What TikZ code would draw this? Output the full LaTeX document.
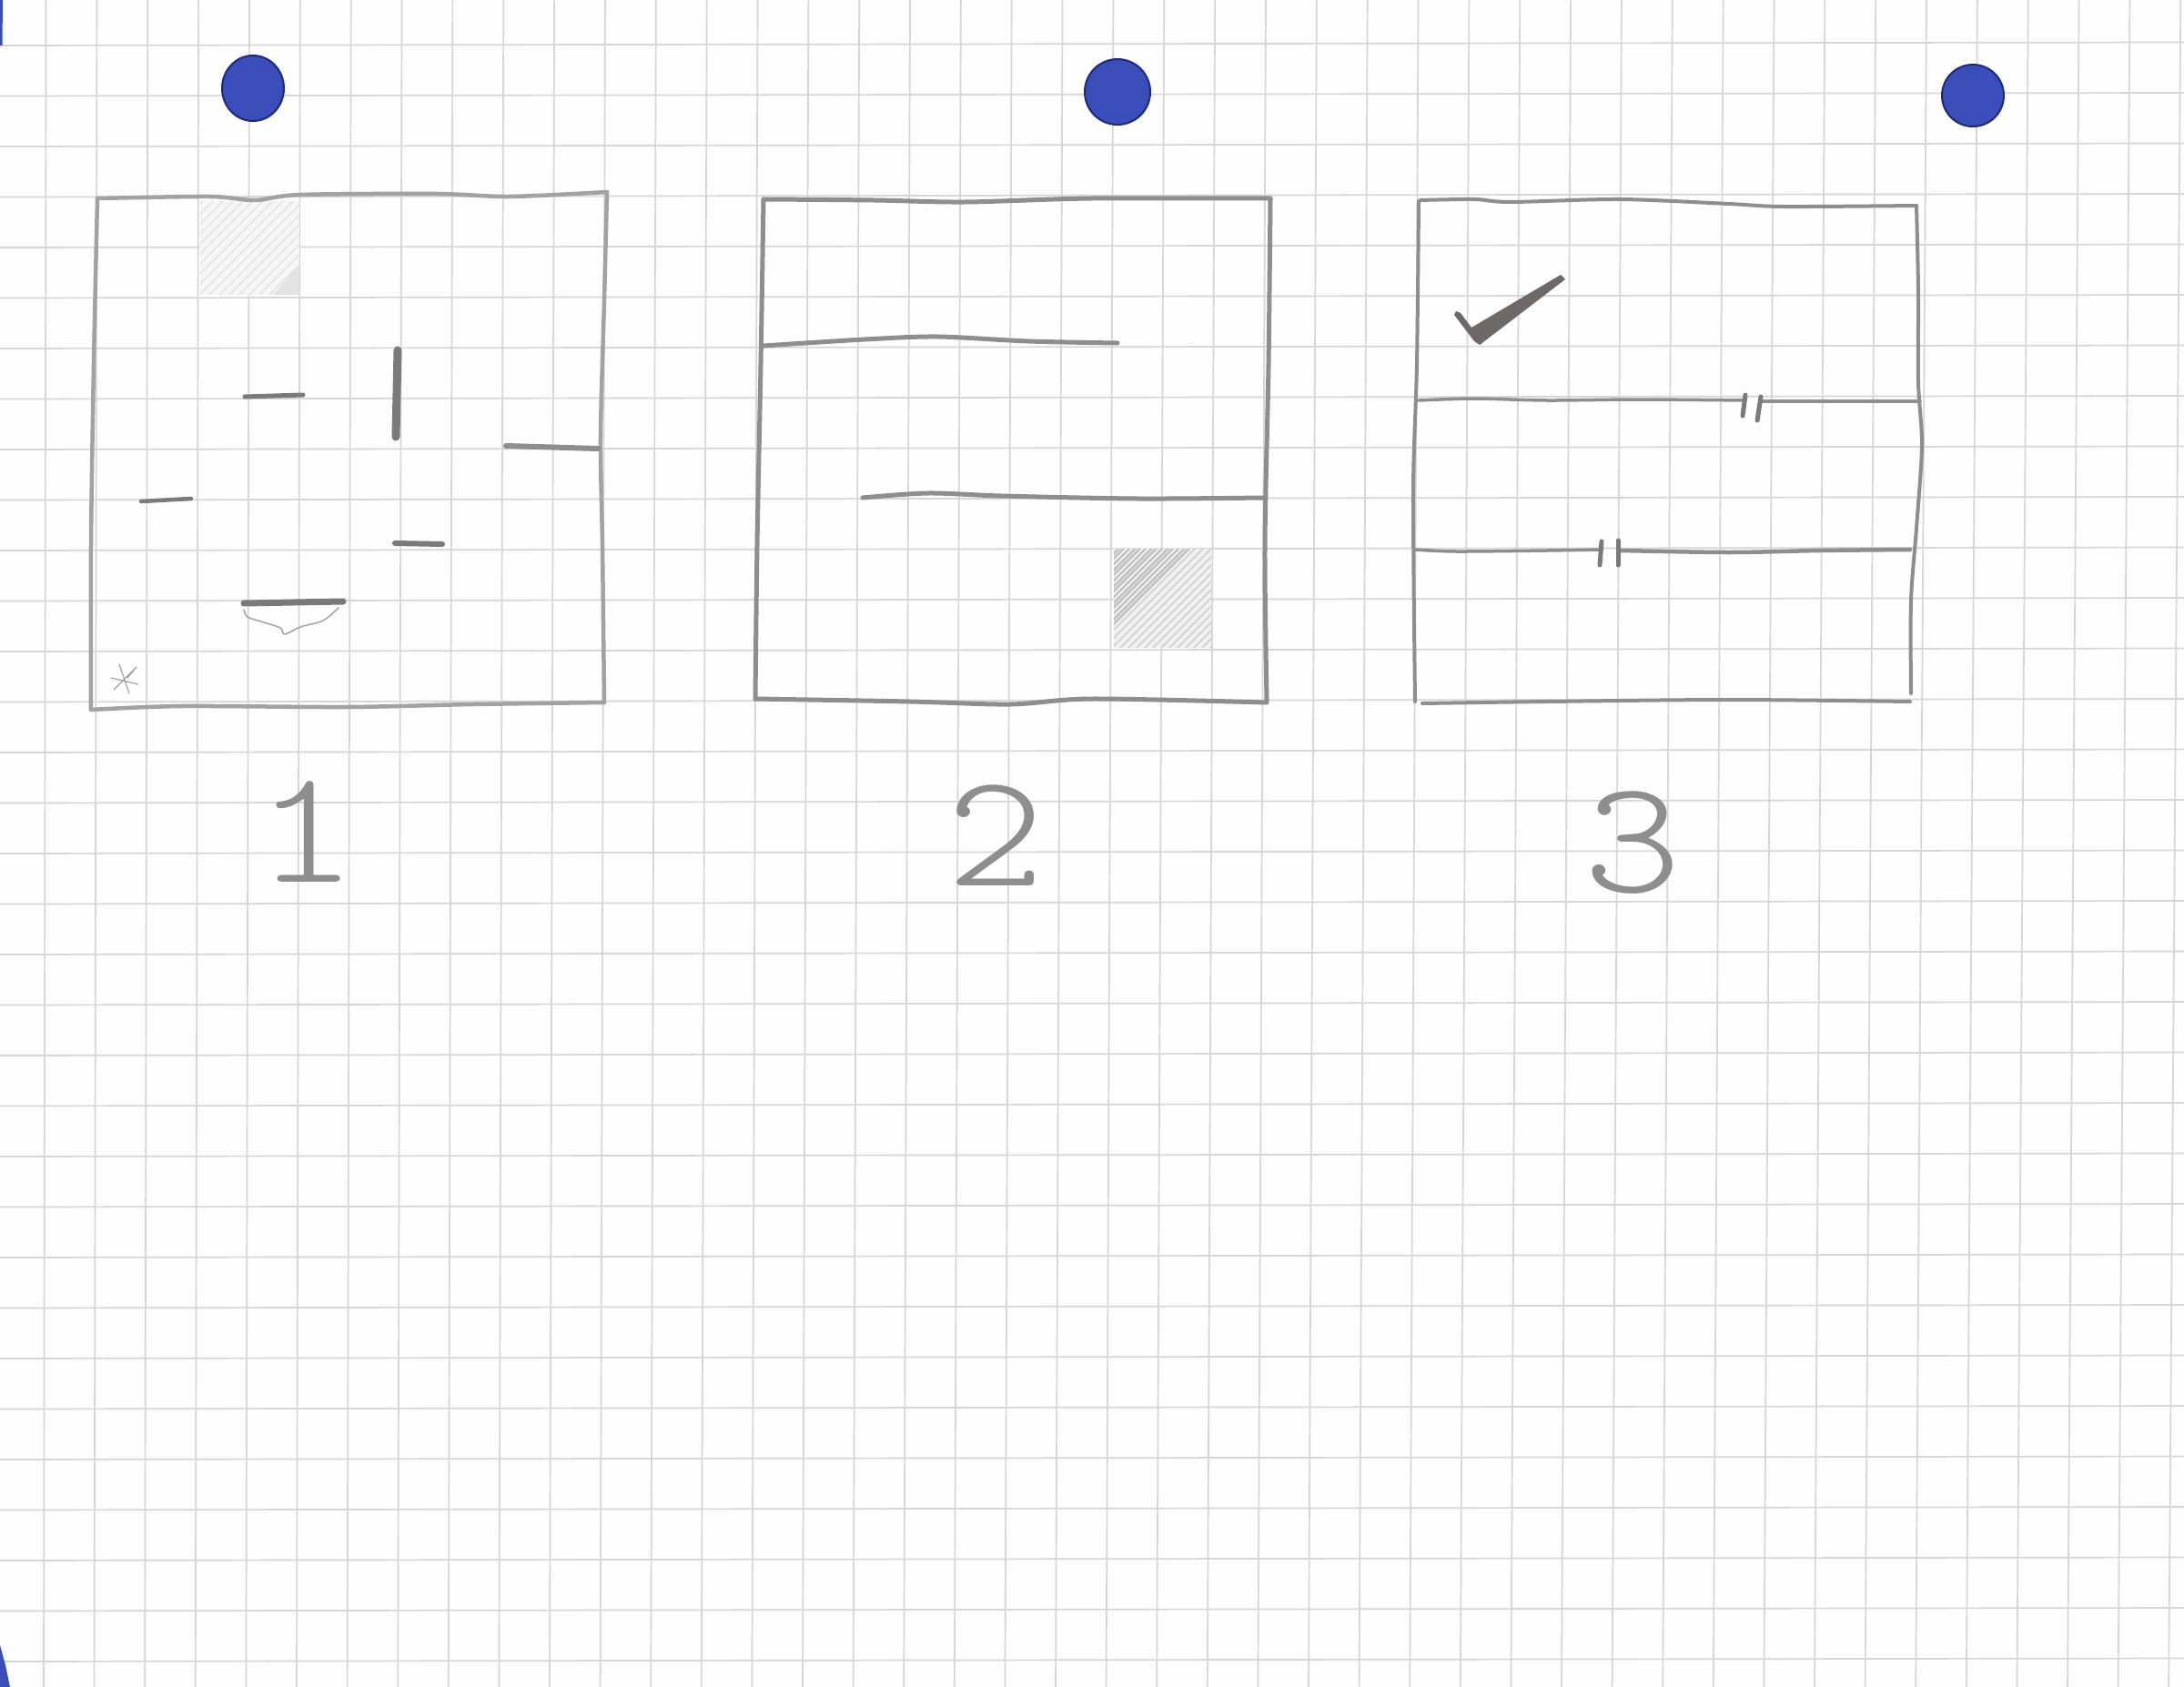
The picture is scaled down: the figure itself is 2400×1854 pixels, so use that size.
\documentclass[tikz,border=0pt]{standalone}
\usepackage{fontspec}
\newfontfamily\handfont[Extension=.otf]{lmmonolt10-regular}
\definecolor{paper}{HTML}{FEFEFE}
\definecolor{gridgray}{HTML}{D6D6D6}
\definecolor{pencil}{HTML}{8E8E8E}
\definecolor{pencillight}{HTML}{A2A2A2}
\definecolor{pencildark}{HTML}{7A7A7A}
\definecolor{dotblue}{HTML}{3A4DB8}
\definecolor{dotedge}{HTML}{1C2A78}
\definecolor{checkgray}{HTML}{6E6868}
\begin{document}
\begin{tikzpicture}[x=1pt,y=-1pt,
  gridline/.style={draw=gridgray,line width=1.7pt},
  boxone/.style={draw=pencillight,line width=4.5pt,line cap=round,line join=round},
  boxtwo/.style={draw=pencil,line width=5pt,line cap=round,line join=round},
  boxthree/.style={draw=pencil,line width=4pt,line cap=round,line join=round},
  strokemark/.style={draw=pencildark,line cap=round,line join=round},
  faint/.style={draw=pencillight,line width=1.5pt,line cap=round,line join=round},
  hatchfill/.style={fill=gray!12},
  hatchline/.style={draw=gray!38,line width=1.6pt},
  blot/.style={fill=dotblue,draw=dotedge,line width=2pt},
  digit/.style={inner sep=0pt,text=pencil,font=\handfont\fontsize{178}{178}\selectfont}]
\useasboundingbox (0,0) rectangle (2400,1854);
\fill[paper] (0,0) rectangle (2400,1854);
% graph paper grid
\foreach \k in {0,...,42} \draw[gridline] ({50.6+55.85*\k},0) -- ({48+55.6*\k},1854);
\foreach \k in {0,...,32} \draw[gridline] (0,{50+55.5*\k}) -- (2400,{46.5+55.5*\k});
% blue edge slivers
\fill[dotblue] (0,1808) -- (6,1830) -- (11,1854) -- (0,1854) -- cycle;
\fill[dotblue] (0,0) -- (3,0) -- (2.5,50) -- (0,50) -- cycle;
% blue dots
\fill[blot] (278,97) ellipse [x radius=34, y radius=36];
\fill[blot] (1228,101) ellipse [x radius=36, y radius=36];
\fill[blot] (2168,105) ellipse [x radius=34, y radius=34];

% ---------- box 1 ----------
\begin{scope}
\clip (220,221) rectangle (329,324);
\fill[hatchfill,fill=gray!7] (220,221) rectangle (329,324);
\foreach \i in {-100,-89,...,100} \draw[hatchline,draw=gray!24,line width=1.3pt] ({220+\i},324) -- ({323+\i},221);
\fill[gray!22] (300,324) -- (329,324) -- (329,290) -- cycle;
\end{scope}
\draw[boxone] plot[smooth] coordinates {(107,218) (230,216) (280,220) (330,214) (480,213) (560,216) (667,211)};
\draw[boxone] plot[smooth] coordinates {(667,211) (664,330) (660,480) (662,600) (664,772)};
\draw[boxone] plot[smooth] coordinates {(664,772) (520,774) (380,777) (200,776) (100,780)};
\draw[boxone] plot[smooth] coordinates {(100,780) (100,600) (103,400) (107,218)};
\draw[strokemark,line width=5pt] (269,436) -- (333,434);
\draw[strokemark,line width=9pt] (437,385) -- (435,480);
\draw[strokemark,draw=pencil,line width=6pt] (556,490) -- (657,493);
\draw[strokemark,line width=4.5pt] (155,551) -- (210,548);
\draw[strokemark,line width=6pt] (434,597) -- (486,598);
\draw[strokemark,line width=7pt] (268,663) -- (377,661);
\draw[faint] plot[smooth] coordinates {(268,670) (272,678) (290,684) (308,690) (313,697) (330,689) (355,682) (372,668)};
\draw[faint,line width=1.2pt] (131,730) -- (142,762) (125,758) -- (150,733) -- (140,745) (122,745) -- (152,752);

% ---------- box 2 ----------
\begin{scope}
\clip (1224,603) rectangle (1331,712);
\fill[hatchfill] (1224,603) rectangle (1331,712);
\foreach \i in {-110,-101,...,110} \draw[hatchline] ({1224+\i},712) -- ({1333+\i},603);
\clip (1224,603) -- (1310,603) -- (1224,690) -- cycle;
\foreach \i in {-110,-104,...,20} \draw[hatchline,draw=gray!55] ({1224+\i},712) -- ({1333+\i},603);
\end{scope}
\draw[boxtwo] plot[smooth] coordinates {(839,219) (960,220) (1060,222) (1200,218) (1396,218)};
\draw[boxtwo] plot[smooth] coordinates {(1396,218) (1394,400) (1390,600) (1392,770)};
\draw[boxtwo] plot[smooth] coordinates {(1392,772) (1200,768) (1110,774) (1000,771) (830,768)};
\draw[boxtwo] plot[smooth] coordinates {(830,768) (832,600) (836,400) (839,219)};
\draw[boxtwo] plot[smooth] coordinates {(839,380) (950,373) (1030,370) (1130,375) (1228,377)};
\draw[boxtwo] plot[smooth] coordinates {(948,547) (1020,542) (1100,545) (1250,548) (1388,547)};

% ---------- box 3 ----------
\draw[boxthree] plot[smooth] coordinates {(1561,220) (1620,219) (1660,222) (1780,219) (1900,224) (1960,227) (2106,226)};
\draw[boxthree] plot[smooth] coordinates {(2106,226) (2108,320) (2108,420) (2112,490) (2106,580) (2100,660) (2100,762)};
\draw[boxthree] plot[smooth] coordinates {(2099,771) (1900,769) (1700,771) (1563,773)};
\draw[boxthree] plot[smooth] coordinates {(1555,771) (1553,540) (1557,400) (1559,221)};
\fill[checkgray] (1600,342) -- (1605,344) -- (1617,360) -- (1715,302) -- (1720,307) -- (1626,379) -- (1620,375) -- (1598,346) -- cycle;
\draw[boxthree,line width=3.5pt] plot[smooth] coordinates {(1559,440) (1620,438) (1700,440) (1800,439) (1917,440)};
\draw[boxthree,line width=3.5pt] plot[smooth] coordinates {(1936,441) (2000,441) (2110,441)};
\draw[strokemark,line width=5pt] (1918,434) -- (1915,457);
\draw[strokemark,line width=5pt] (1935,436) -- (1931,462);
\draw[boxthree,line width=3.5pt] plot[smooth] coordinates {(1555,604) (1600,606) (1700,605) (1758,604)};
\draw[boxthree,line width=4.5pt] plot[smooth] coordinates {(1781,605) (1900,607) (2000,605) (2099,604)};
\draw[strokemark,line width=5pt] (1760,595) -- (1758,621);
\draw[strokemark,line width=5pt] (1778,594) -- (1778,621);

% ---------- labels ----------
\node[digit,xscale=1.2] (n1) at (337,914) {1};
\node[digit,xscale=1.15] (n2) at (1094,918) {2};
\node[digit,xscale=1.15] (n3) at (1794,926) {3};
\end{tikzpicture}
\end{document}
